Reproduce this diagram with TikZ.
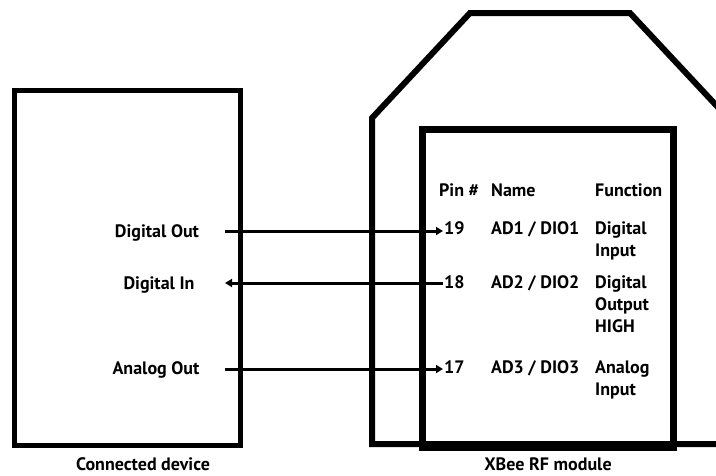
\documentclass[tikz,border=0pt]{standalone}
\usepackage{fontspec}
\setmainfont{PT Sans}
\usetikzlibrary{positioning,arrows.meta}

\begin{document}
\begin{tikzpicture}[x=1pt, y=-1pt,
    box/.style={draw=black, line width=6pt, line join=miter},
    lbl/.style={font=\bfseries\fontsize{18}{22}\selectfont, inner sep=1pt, align=left},
    arr/.style={-{Triangle[length=7pt, width=8pt]}, line width=3pt}]
  \useasboundingbox (0,0) rectangle (716,475);
  \clip (0,0) rectangle (716,475);
  % devices
  \draw[box, line width=5pt] (14,90) rectangle (240,445);
  \draw[box] (372,444) -- (372,118) -- (470,13) -- (630,13) -- (728,118) -- (728,444) -- cycle;
  \draw[box, line width=7pt] (422,129) rectangle (673,447);
  % left side labels
  \node[lbl, anchor=base] (dout) at (157,237) {Digital Out};
  \node[lbl, anchor=base] (din)  at (159,289) {Digital In};
  \node[lbl, anchor=base] (aout) at (156,374) {Analog Out};
  \coordinate (dout-r) at (225,231);
  \coordinate (din-r)  at (225,283);
  \coordinate (aout-r) at (225,369);
  % pin table (base of multi-line nodes is their last line)
  \node[lbl, anchor=base west] (hpin)  at (438,196) {Pin \#};
  \node[lbl, anchor=base west] (hname) at (490,196) {Name};
  \node[lbl, anchor=base west] (hfun)  at (594,196) {Function};
  \node[lbl, anchor=base west] (p19) at (443,234) {19};
  \node[lbl, anchor=base west] (n19) at (490,234) {AD1 / DIO1};
  \node[lbl, anchor=base west] (f19) at (594,256) {Digital\\Input};
  \node[lbl, anchor=base west] (p18) at (443,288) {18};
  \node[lbl, anchor=base west] (n18) at (490,288) {AD2 / DIO2};
  \node[lbl, anchor=base west] (f18) at (594,332) {Digital\\Output\\HIGH};
  \node[lbl, anchor=base west] (p17) at (443,373) {17};
  \node[lbl, anchor=base west] (n17) at (490,373) {AD3 / DIO3};
  \node[lbl, anchor=base west] (f17) at (594,395) {Analog\\Input};
  % signals
  \draw[arr] (dout-r) -- (dout-r -| p19.west);
  \draw[arr] (din-r -| p18.west) -- (din-r);
  \draw[arr] (aout-r) -- (aout-r -| p17.west);
  % captions
  \node[lbl, anchor=base] (cdev) at (143,470) {Connected device};
  \node[lbl, anchor=base] (xbee) at (548,470) {XBee RF module};
\end{tikzpicture}
\end{document}
